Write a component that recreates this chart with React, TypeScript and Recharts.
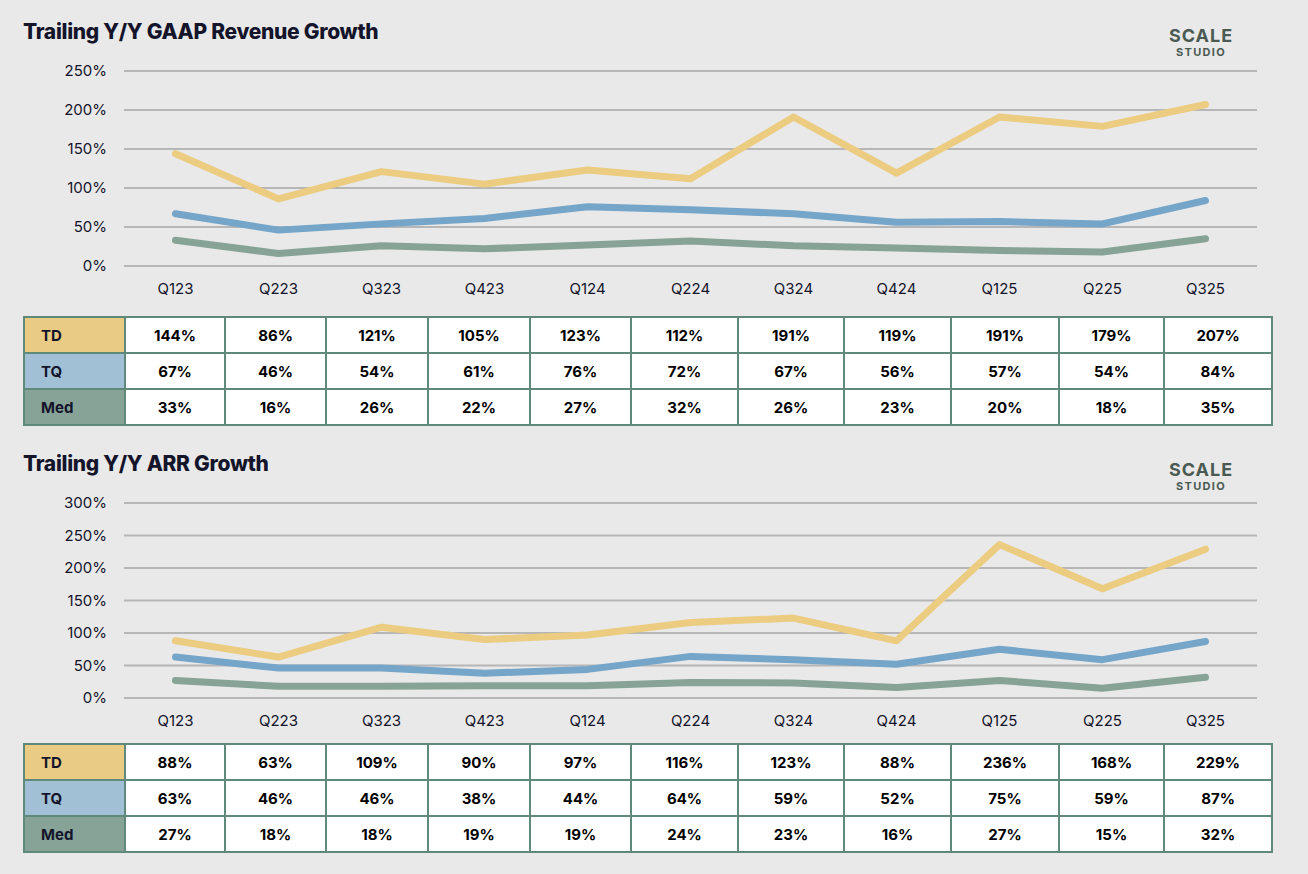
import React from 'react'
import { LineChart, Line, XAxis, YAxis, CartesianGrid } from 'recharts'

const QUARTERS = ['Q123', 'Q223', 'Q323', 'Q423', 'Q124', 'Q224', 'Q324', 'Q424', 'Q125', 'Q225', 'Q325']

// Trailing Y/Y GAAP revenue growth (%)
const REV_TD = [144, 86, 121, 105, 123, 112, 191, 119, 191, 179, 207]
const REV_TQ = [67, 46, 54, 61, 76, 72, 67, 56, 57, 54, 84]
const REV_MED = [33, 16, 26, 22, 27, 32, 26, 23, 20, 18, 35]
const REV_TICKS = [0, 50, 100, 150, 200, 250]

// Trailing Y/Y ARR growth (%)
const ARR_TD = [88, 63, 109, 90, 97, 116, 123, 88, 236, 168, 229]
const ARR_TQ = [63, 46, 46, 38, 44, 64, 59, 52, 75, 59, 87]
const ARR_MED = [27, 18, 18, 19, 19, 24, 23, 16, 27, 15, 32]
const ARR_TICKS = [0, 50, 100, 150, 200, 250, 300]

const COLORS = {
  td: '#ebcc80',
  tq: '#75a5c9',
  med: '#86a396',
  tdCell: '#e9cb83',
  tqCell: '#a2c0d5',
  medCell: '#87a397',
  border: '#5f8a7b',
  grid: '#b6b6b6',
  bg: '#e9e9e9',
  text: '#14142b',
}

const FONT = 'Inter, "Noto Sans", sans-serif'

const PLOT_LEFT = 124
const PLOT_RIGHT = 1257
const TABLE_LEFT = 23
const BAND = (PLOT_RIGHT - PLOT_LEFT) / QUARTERS.length
// column edges of the data table (the source table isn't perfectly even)
const COL_EDGES = [124, 224, 325, 427, 529, 630, 737, 843, 950, 1058, 1163, 1271]

function buildRows(td: number[], tq: number[], med: number[]) {
  return QUARTERS.map((q, i) => ({ q, td: td[i], tq: tq[i], med: med[i] }))
}

function GrowthChart({ td, tq, med, ticks }: { td: number[]; tq: number[]; med: number[]; ticks: number[] }) {
  const data = buildRows(td, tq, med)
  const yw = 60
  return (
    <LineChart
      width={1308}
      height={300}
      data={data}
      margin={{ top: 71, right: 1308 - PLOT_RIGHT, bottom: 4, left: PLOT_LEFT - yw }}
    >
      <CartesianGrid vertical={false} stroke={COLORS.grid} strokeWidth={2} />
      <XAxis
        dataKey="q"
        height={30}
        axisLine={false}
        tickLine={false}
        padding={{ left: BAND / 2, right: BAND / 2 }}
        tickMargin={11}
        interval={0}
        tick={{ fill: COLORS.text, fontSize: 15, fontFamily: FONT }}
      />
      <YAxis
        width={yw}
        domain={[0, ticks[ticks.length - 1]]}
        ticks={ticks}
        axisLine={false}
        tickLine={false}
        tickMargin={11}
        tickFormatter={(v: number) => `${v}%`}
        tick={{ fill: COLORS.text, fontSize: 15, fontFamily: FONT }}
      />
      <Line dataKey="med" stroke={COLORS.med} strokeWidth={7} strokeLinecap="round" strokeLinejoin="round" dot={false} isAnimationActive={false} />
      <Line dataKey="tq" stroke={COLORS.tq} strokeWidth={7} strokeLinecap="round" strokeLinejoin="round" dot={false} isAnimationActive={false} />
      <Line dataKey="td" stroke={COLORS.td} strokeWidth={7} strokeLinecap="round" strokeLinejoin="round" dot={false} isAnimationActive={false} />
    </LineChart>
  )
}

function DataTable({ td, tq, med, top }: { td: number[]; tq: number[]; med: number[]; top: number }) {
  const rows = [
    { label: 'TD', fill: COLORS.tdCell, values: td },
    { label: 'TQ', fill: COLORS.tqCell, values: tq },
    { label: 'Med', fill: COLORS.medCell, values: med },
  ]
  const labelW = PLOT_LEFT - TABLE_LEFT
  const tableRight = COL_EDGES[COL_EDGES.length - 1]
  const cell = { border: `2px solid ${COLORS.border}`, padding: 0, boxSizing: 'border-box' as const }
  return (
    <table
      style={{
        position: 'absolute',
        left: TABLE_LEFT,
        top,
        width: tableRight - TABLE_LEFT,
        borderCollapse: 'collapse',
        tableLayout: 'fixed',
        fontFamily: FONT,
        fontSize: 15,
        fontWeight: 700,
        color: '#000',
      }}
    >
      <colgroup>
        <col style={{ width: labelW }} />
        {QUARTERS.map((q, i) => (
          <col key={q} style={{ width: COL_EDGES[i + 1] - COL_EDGES[i] }} />
        ))}
      </colgroup>
      <tbody>
        {rows.map(r => (
          <tr key={r.label} style={{ height: 36 }}>
            <td style={{ ...cell, background: r.fill, paddingLeft: 16, color: COLORS.text }}>{r.label}</td>
            {r.values.map((v, i) => (
              <td key={i} style={{ ...cell, background: '#fff', textAlign: 'center' }}>
                {v}%
              </td>
            ))}
          </tr>
        ))}
      </tbody>
    </table>
  )
}

function Logo({ top }: { top: number }) {
  return (
    <div
      style={{
        position: 'absolute',
        left: 1151,
        top,
        width: 100,
        textAlign: 'center',
        color: '#4a5a53',
        fontFamily: FONT,
        fontWeight: 700,
        lineHeight: 1,
      }}
    >
      <div style={{ fontSize: 18, letterSpacing: 1 }}>SCALE</div>
      <div style={{ fontSize: 11, letterSpacing: 1.3, marginTop: 2 }}>STUDIO</div>
    </div>
  )
}

function Title({ text, top }: { text: string; top: number }) {
  return (
    <div
      style={{
        position: 'absolute',
        left: 23,
        top,
        fontFamily: FONT,
        fontSize: 21,
        fontWeight: 800,
        color: COLORS.text,
        letterSpacing: -0.3,
        whiteSpace: 'nowrap',
      }}
    >
      {text}
    </div>
  )
}

export default function App() {
  return (
    <div
      style={{
        position: 'absolute',
        left: 0,
        top: 0,
        width: 1308,
        height: 874,
        background: COLORS.bg,
        overflow: 'hidden',
      }}
    >
      <Title text="Trailing Y/Y GAAP Revenue Growth" top={19} />
      <Logo top={27} />
      <div style={{ position: 'absolute', left: 0, top: 0 }}>
        <GrowthChart td={REV_TD} tq={REV_TQ} med={REV_MED} ticks={REV_TICKS} />
      </div>
      <DataTable td={REV_TD} tq={REV_TQ} med={REV_MED} top={316} />

      <Title text="Trailing Y/Y ARR Growth" top={451} />
      <Logo top={461} />
      <div style={{ position: 'absolute', left: 0, top: 432 }}>
        <GrowthChart td={ARR_TD} tq={ARR_TQ} med={ARR_MED} ticks={ARR_TICKS} />
      </div>
      <DataTable td={ARR_TD} tq={ARR_TQ} med={ARR_MED} top={743} />
    </div>
  )
}
